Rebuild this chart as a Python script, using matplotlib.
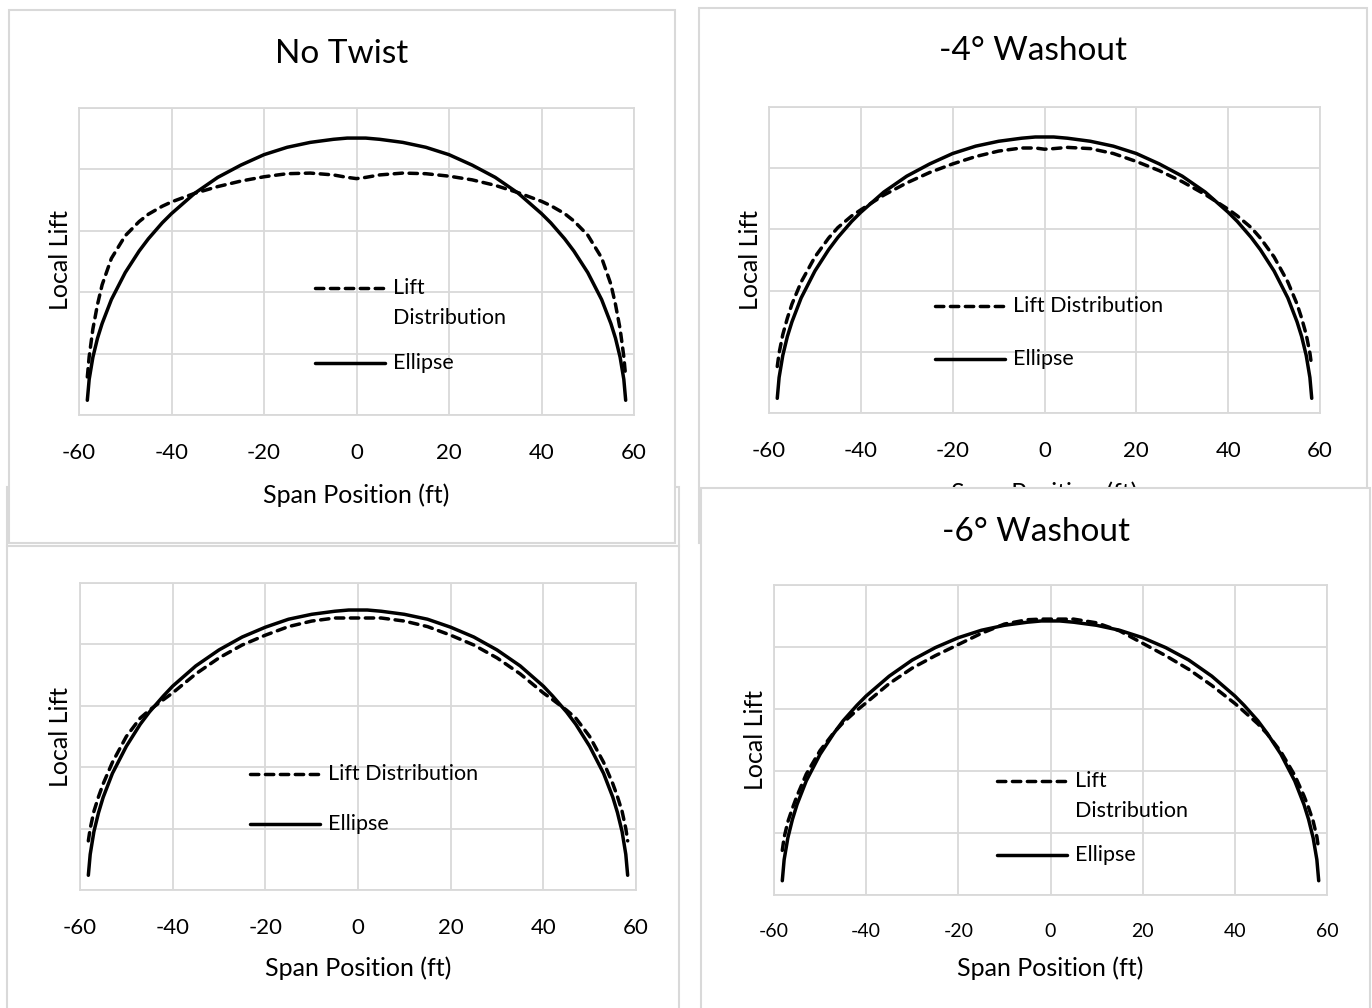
"""
Spanwise lift distribution vs. elliptical loading for different washout angles
"""

import matplotlib
matplotlib.use("Agg")
import matplotlib.pyplot as plt
from matplotlib.lines import Line2D
from matplotlib.patches import Rectangle

plt.rcParams['font.family'] = ['Lato', 'DejaVu Sans']
plt.rcParams['axes.unicode_minus'] = False

# span stations (ft), shared by every panel
span = [-58.2, -57.8, -57, -56, -55, -53, -50, -47, -45, -42, -40, -35, -30, -25,
        -20, -15, -10, -5, -2, 0, 2, 5, 10, 15, 20, 25, 30, 35, 40, 42, 45, 47,
        50, 53, 55, 56, 57, 57.8, 58.2]

# elliptical reference loading
ellipse_no_twist = [0.24, 0.58, 0.94, 1.25, 1.49, 1.88, 2.32, 2.67, 2.87, 3.13, 3.28,
                    3.61, 3.87, 4.07, 4.24, 4.36, 4.44, 4.49, 4.51, 4.51, 4.51, 4.49,
                    4.44, 4.36, 4.24, 4.07, 3.87, 3.61, 3.28, 3.13, 2.87, 2.67, 2.32,
                    1.88, 1.49, 1.25, 0.94, 0.58, 0.24]
ellipse_4deg = [0.24, 0.58, 0.94, 1.25, 1.49, 1.88, 2.32, 2.67, 2.87, 3.13, 3.28,
                3.61, 3.87, 4.07, 4.24, 4.36, 4.44, 4.49, 4.51, 4.51, 4.51, 4.49,
                4.44, 4.36, 4.24, 4.07, 3.87, 3.61, 3.28, 3.13, 2.87, 2.67, 2.32,
                1.88, 1.49, 1.25, 0.94, 0.58, 0.24]
ellipse_2deg = [0.24, 0.58, 0.95, 1.26, 1.51, 1.90, 2.34, 2.70, 2.90, 3.16, 3.32,
                3.65, 3.91, 4.12, 4.28, 4.41, 4.49, 4.54, 4.56, 4.56, 4.56, 4.54,
                4.49, 4.41, 4.28, 4.12, 3.91, 3.65, 3.32, 3.16, 2.90, 2.70, 2.34,
                1.90, 1.51, 1.26, 0.95, 0.58, 0.24]
ellipse_6deg = [0.23, 0.57, 0.92, 1.22, 1.46, 1.84, 2.27, 2.61, 2.81, 3.06, 3.21,
                3.53, 3.79, 3.99, 4.15, 4.27, 4.35, 4.40, 4.42, 4.42, 4.42, 4.40,
                4.35, 4.27, 4.15, 3.99, 3.79, 3.53, 3.21, 3.06, 2.81, 2.61, 2.27,
                1.84, 1.46, 1.22, 0.92, 0.57, 0.23]

# computed lift distribution
lift_no_twist = [0.62, 0.95, 1.40, 1.80, 2.12, 2.55, 2.92, 3.15, 3.27, 3.40, 3.47,
                 3.61, 3.72, 3.81, 3.88, 3.93, 3.94, 3.91, 3.87, 3.85, 3.87, 3.91,
                 3.94, 3.93, 3.89, 3.83, 3.74, 3.62, 3.48, 3.41, 3.28, 3.16, 2.93,
                 2.56, 2.13, 1.80, 1.40, 0.95, 0.62]
lift_4deg = [0.76, 0.98, 1.28, 1.55, 1.78, 2.14, 2.55, 2.86, 3.03, 3.22, 3.32,
             3.56, 3.76, 3.93, 4.07, 4.19, 4.28, 4.33, 4.33, 4.31, 4.32, 4.34,
             4.32, 4.24, 4.11, 3.96, 3.78, 3.57, 3.33, 3.22, 3.03, 2.86, 2.55,
             2.14, 1.78, 1.55, 1.28, 0.98, 0.76]
lift_2deg = [0.80, 1.00, 1.28, 1.52, 1.73, 2.08, 2.50, 2.80, 2.93, 3.10, 3.21,
             3.52, 3.78, 3.99, 4.15, 4.29, 4.38, 4.43, 4.43, 4.43, 4.43, 4.43,
             4.38, 4.29, 4.15, 3.99, 3.78, 3.52, 3.21, 3.10, 2.93, 2.80, 2.50,
             2.08, 1.73, 1.52, 1.28, 1.00, 0.80]
lift_6deg = [0.72, 0.93, 1.18, 1.40, 1.60, 1.95, 2.33, 2.62, 2.78, 2.98, 3.10,
             3.41, 3.66, 3.86, 4.04, 4.22, 4.37, 4.44, 4.45, 4.45, 4.45, 4.45,
             4.39, 4.26, 4.06, 3.86, 3.64, 3.38, 3.09, 2.96, 2.76, 2.60, 2.31,
             1.93, 1.60, 1.41, 1.19, 0.94, 0.73]

x_ticks = [-60, -40, -20, 0, 20, 40, 60]

W, H = 1372, 1008
GRID = '#d9d9d9'

fig = plt.figure(figsize=(W / 100, H / 100), dpi=100)


def fx(px):
    return px / W


def fy(py):
    return 1 - py / H


def add_box(x0, y0, x1, y1, z):
    # chart area frame, like the grey border Excel puts round a chart
    rect = Rectangle((fx(x0), fy(y1)), fx(x1) - fx(x0), fy(y0) - fy(y1),
                     transform=fig.transFigure, facecolor='white',
                     edgecolor=GRID, linewidth=1.5, zorder=z)
    fig.add_artist(rect)


def add_key(x0, y_dash, y_solid, text_lines, z):
    # hand made legend so the marker lines up with the first text line
    x1 = x0 + 70
    fig.add_artist(Line2D([fx(x0), fx(x1)], [fy(y_dash)] * 2, transform=fig.transFigure,
                          color='black', lw=2.5, linestyle=(0, (2.4, 1.9)),
                          dash_capstyle='round', zorder=z))
    fig.add_artist(Line2D([fx(x0), fx(x1)], [fy(y_solid)] * 2, transform=fig.transFigure,
                          color='black', lw=2.5, solid_capstyle='round', zorder=z))
    for i, line in enumerate(text_lines):
        fig.text(fx(x1 + 8), fy(y_dash + i * 30), line, fontsize=15.5,
                 va='center', ha='left', zorder=z)
    fig.text(fx(x1 + 8), fy(y_solid), 'Ellipse', fontsize=15.5,
             va='center', ha='left', zorder=z)


def panel(plot_px, ellipse, lift, z, tick_size=16):
    x0, y0, x1, y1 = plot_px
    ax = fig.add_axes([fx(x0), fy(y1), fx(x1) - fx(x0), fy(y0) - fy(y1)])
    ax.set_zorder(z)
    ax.patch.set_alpha(0)
    ax.plot(span, ellipse, color='black', lw=2.5, solid_capstyle='round',
            solid_joinstyle='round')
    ax.plot(span, lift, color='black', lw=2.5, linestyle=(0, (2.4, 1.9)),
            dash_capstyle='round', dash_joinstyle='round')
    ax.set_xlim(-60, 60)
    ax.set_ylim(0, 5)
    ax.set_xticks(x_ticks)
    ax.set_yticks(range(6))
    ax.grid(True, color=GRID, lw=1.3)
    ax.set_axisbelow(True)
    for s in ax.spines.values():
        s.set_color(GRID)
        s.set_linewidth(1.3)
    ax.tick_params(axis='both', length=0)
    ax.tick_params(axis='x', labelsize=tick_size, pad=20)
    ax.tick_params(axis='y', labelleft=False)
    ax.set_xlabel('Span Position (ft)', fontsize=18, va='center')
    ax.set_ylabel('Local Lift', fontsize=18, va='center')
    return ax


# frames (later ones sit on top of earlier ones)
add_box(7, 487, 679, 1015, 0.1)
fig.add_artist(Line2D([fx(7), fx(679)], [fy(546)] * 2, transform=fig.transFigure,
                      color=GRID, lw=1.5, zorder=0.15))
add_box(9, 10, 675, 543, 0.2)
add_box(699, 8, 1367, 543, 0.1)
add_box(701, 488, 1370, 1015, 2)

# No Twist
ax = panel((79, 108, 634, 415), ellipse_no_twist, lift_no_twist, 1)
ax.xaxis.set_label_coords(0.5, -(495 - 415) / 307)
ax.yaxis.set_label_coords(-(79 - 60) / 555, 1 - (260 - 108) / 307)
fig.text(fx(342), fy(54), 'No Twist', fontsize=24, ha='center', va='center', zorder=1)
add_key(315, 288, 363, ['Lift', 'Distribution'], 1.5)

# -4 deg washout
ax = panel((769, 107, 1320, 413), ellipse_4deg, lift_4deg, 1)
ax.xaxis.set_label_coords(0.5, -(493 - 413) / 306)
ax.yaxis.set_label_coords(-(769 - 750) / 551, 1 - (260 - 107) / 306)
fig.text(fx(1033), fy(51), '-4° Washout', fontsize=24, ha='center', va='center', zorder=1)
add_key(935, 306, 359, ['Lift Distribution'], 1.5)

# unnamed panel, bottom left
ax = panel((80, 583, 636, 890), ellipse_2deg, lift_2deg, 1)
ax.xaxis.set_label_coords(0.5, -(968 - 890) / 307)
ax.yaxis.set_label_coords(-(80 - 60) / 556, 1 - (737 - 583) / 307)
add_key(250, 774, 824, ['Lift Distribution'], 1.5)

# -6 deg washout
ax = panel((774, 585, 1327, 895), ellipse_6deg, lift_6deg, 3, tick_size=14)
ax.xaxis.set_label_coords(0.5, -(968 - 895) / 310)
ax.yaxis.set_label_coords(-(774 - 755) / 553, 1 - (740 - 585) / 310)
fig.text(fx(1036), fy(532), '-6° Washout', fontsize=24, ha='center', va='center', zorder=3)
add_key(997, 781, 855, ['Lift', 'Distribution'], 3.5)

fig.savefig('out.png', dpi=100)
